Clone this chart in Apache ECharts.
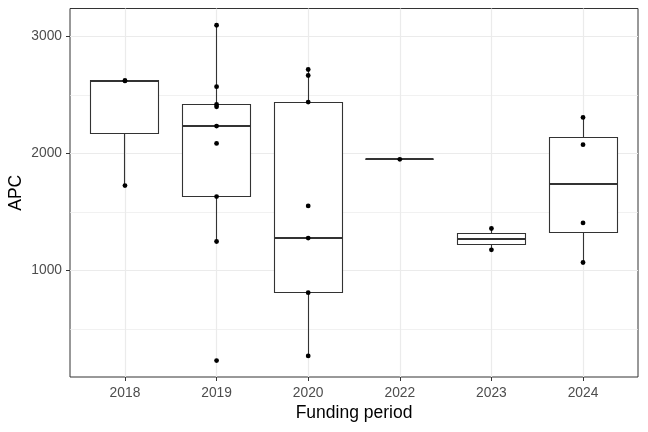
<!DOCTYPE html>
<html>
<head>
<meta charset="utf-8">
<script src="https://cdn.jsdelivr.net/npm/echarts@6/dist/echarts.min.js"></script>
<style>
html,body{margin:0;padding:0;background:#fff;}
#chart{width:648px;height:432px;}
</style>
</head>
<body>
<div id="chart"></div>
<script>
// Categories (funding periods)
const categories = ['2018', '2019', '2020', '2022', '2023', '2024'];

// Individual APC values per funding period
const points2018 = [2620, 2620, 1725];
const points2019 = [3094, 2569, 2418, 2398, 2233, 2085, 1631, 1247, 230];
const points2020 = [2716, 2665, 2438, 1551, 1276, 810, 270];
const points2022 = [1949];
const points2023 = [1358, 1176];
const points2024 = [2307, 2074, 1406, 1068];

// Box statistics per period: [lower whisker, Q1, median, Q3, upper whisker]
const box2018 = [1725, 2172, 2620, 2620, 2620];
const box2019 = [1247, 1631, 2233, 2418, 3094];
const box2020 = [270, 810, 1276, 2438, 2716];
const box2022 = [1949, 1949, 1949, 1949, 1949];
const box2023 = [1176, 1222, 1267, 1313, 1358];
const box2024 = [1068, 1322, 1742, 2133, 2307];

// Axis ticks
const yTicks = [1000, 2000, 3000];
const yMinorGrid = [500, 1500, 2500];

const allPoints = [points2018, points2019, points2020, points2022, points2023, points2024];
const allBoxes = [box2018, box2019, box2020, box2022, box2023, box2024];

const xPositions = categories.map((c, i) => i + 1);
const boxData = allBoxes.map((b, i) => [i + 1].concat(b));
const scatterData = [];
allPoints.forEach((arr, i) => arr.forEach(v => scatterData.push([i + 1, v])));

const FONT = 'Liberation Sans, Arial, sans-serif';

const gridLines = []
  .concat(xPositions.map(x => ({ xAxis: x, lineStyle: { color: '#ebebeb', width: 1.2, type: 'solid' } })))
  .concat(yTicks.map(y => ({ yAxis: y, lineStyle: { color: '#ebebeb', width: 1.2, type: 'solid' } })))
  .concat(yMinorGrid.map(y => ({ yAxis: y, lineStyle: { color: '#ebebeb', width: 0.7, type: 'solid' } })));

function px(v) { return Math.round(v - 0.5) + 0.5; }

const chart = echarts.init(document.getElementById('chart'), null, { renderer: 'canvas' });
chart.setOption({
  animation: false,
  backgroundColor: '#ffffff',
  grid: {
    left: 70, right: 10, top: 8.5, bottom: 55,
    containLabel: false,
    outerBoundsMode: 'none',
    show: true, borderColor: '#333333', borderWidth: 1, backgroundColor: 'transparent'
  },
  xAxis: {
    type: 'value',
    min: 0.4, max: 6.6,
    name: 'Funding period',
    nameLocation: 'middle',
    nameGap: 27.5,
    nameMoveOverlap: false,
    nameTextStyle: { color: '#000000', fontSize: 17.5, fontFamily: FONT },
    axisLine: { show: false },
    axisTick: { show: true, length: 4, customValues: xPositions, lineStyle: { color: '#333333', width: 1 } },
    axisLabel: {
      show: true, customValues: xPositions, margin: 9.5,
      color: '#4d4d4d', fontSize: 13.8, fontFamily: FONT,
      formatter: v => categories[Math.round(v) - 1] || ''
    },
    splitLine: { show: false }
  },
  yAxis: {
    type: 'value',
    min: 90, max: 3237,
    name: 'APC',
    nameLocation: 'middle',
    nameGap: 45,
    nameMoveOverlap: false,
    nameTextStyle: { color: '#000000', fontSize: 17.5, fontFamily: FONT },
    axisLine: { show: false },
    axisTick: { show: true, length: 4, customValues: yTicks, lineStyle: { color: '#333333', width: 1 } },
    axisLabel: {
      show: true, customValues: yTicks, margin: 8,
      color: '#4d4d4d', fontSize: 13.8, fontFamily: FONT,
      formatter: v => String(Math.round(v))
    },
    splitLine: { show: false }
  },
  series: [
    {
      type: 'line',
      data: [],
      z: 1,
      silent: true,
      markLine: {
        z: 1,
        silent: true,
        symbol: ['none', 'none'],
        label: { show: false },
        animation: false,
        data: gridLines
      }
    },
    {
      type: 'custom',
      z: 10,
      silent: true,
      data: boxData,
      encode: { x: 0, y: [1, 2, 3, 4, 5] },
      renderItem: function (params, api) {
        const x = api.value(0);
        const lo = api.coord([x, api.value(1)]);
        const q1 = api.coord([x, api.value(2)]);
        const md = api.coord([x, api.value(3)]);
        const q3 = api.coord([x, api.value(4)]);
        const hi = api.coord([x, api.value(5)]);
        const w = api.size([0.75, 0])[0];
        const cx = px(md[0]);
        const left = px(cx - w / 2), right = px(cx + w / 2);
        const yq3 = px(q3[1]), yq1 = px(q1[1]);
        const stroke = '#333333';
        return {
          type: 'group',
          children: [
            { type: 'line', shape: { x1: cx, y1: yq3, x2: cx, y2: hi[1] }, style: { stroke: stroke, lineWidth: 1.1 } },
            { type: 'line', shape: { x1: cx, y1: yq1, x2: cx, y2: lo[1] }, style: { stroke: stroke, lineWidth: 1.1 } },
            { type: 'rect', shape: { x: left, y: yq3, width: right - left, height: yq1 - yq3 }, style: { fill: '#ffffff', stroke: stroke, lineWidth: 1.1 } },
            { type: 'line', shape: { x1: left, y1: Math.round(md[1]), x2: right, y2: Math.round(md[1]) }, style: { stroke: stroke, lineWidth: 2.2 } }
          ]
        };
      }
    },
    {
      type: 'scatter',
      z: 11,
      data: scatterData,
      symbol: 'circle',
      symbolSize: 4.8,
      itemStyle: { color: '#000000', opacity: 1 },
      silent: true
    }
  ]
});
</script>
</body>
</html>
